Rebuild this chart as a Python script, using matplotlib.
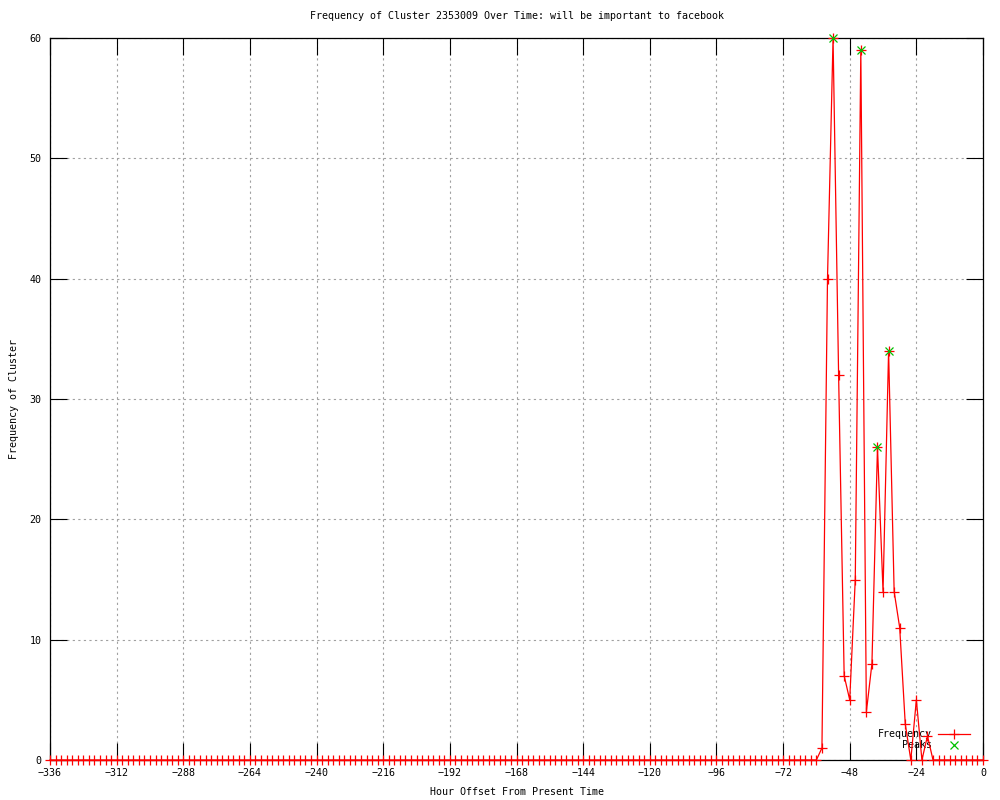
"""
Frequency of a cluster over the last two weeks, gnuplot style.
"""
import numpy as np
import matplotlib
matplotlib.use("Agg")
import matplotlib.pyplot as plt

# Hours from present, one sample every 2 hours
hours = np.arange(-336, 1, 2)

# Counts: flat until -60, burst between -58 and -20, flat again until 0
quiet_before = [0] * 139
burst = [1, 40, 60, 32, 7, 5, 15, 59, 4, 8, 26, 14, 34, 14, 11, 3, 0, 5, 0, 2]
quiet_after = [0] * 10
frequency = quiet_before + burst + quiet_after

peak_hours = [-54, -44, -38, -34]
peak_values = [60, 59, 26, 34]

x_ticks = list(range(-336, 1, 24))
y_ticks = list(range(0, 61, 10))

plt.rcParams["font.family"] = ["DejaVu Sans Mono"]
plt.rcParams["font.size"] = 7.2

fig = plt.figure(figsize=(10, 8), dpi=100)
ax = fig.add_axes([0.05, 0.05, 0.933, 0.9025])

ax.plot(hours, frequency, color="red", linewidth=0.9, marker="+",
        markersize=7, markeredgewidth=0.9, label="Frequency", zorder=6,
        clip_on=False)
ax.plot(peak_hours, peak_values, linestyle="none", color="#00c000", marker="x",
        markersize=6, markeredgewidth=0.9, label="Peaks", zorder=7,
        clip_on=False)

ax.set_xlim(-336, 0)
ax.set_ylim(0, 60)
ax.set_xticks(x_ticks)
ax.set_yticks(y_ticks)
ax.set_xticklabels([f"\u2212{abs(t)}" if t < 0 else str(t) for t in x_ticks])

ax.grid(True, color="#a0a0a0", linestyle=(0, (2, 3)), linewidth=0.8)
ax.tick_params(direction="in", length=12, width=0.8, top=True, right=True,
               labelsize=7.2, pad=6, colors="black")
for spine in ax.spines.values():
    spine.set_linewidth(0.9)
    spine.set_zorder(5)

ax.set_title("Frequency of Cluster 2353009 Over Time: will be important to facebook",
             fontsize=7.2, pad=14)
ax.set_xlabel("Hour Offset From Present Time", fontsize=7.2, labelpad=6)
ax.set_ylabel("Frequency of Cluster", fontsize=7.2, labelpad=8)

leg = ax.legend(loc="lower right", frameon=False, markerfirst=False, numpoints=1,
                handlelength=3.2, handletextpad=0.6, labelspacing=0.1,
                borderaxespad=0.6, fontsize=7.2)
leg.set_bbox_to_anchor((0.997, 0.0), transform=ax.transAxes)

fig.savefig("out.png", dpi=100)
